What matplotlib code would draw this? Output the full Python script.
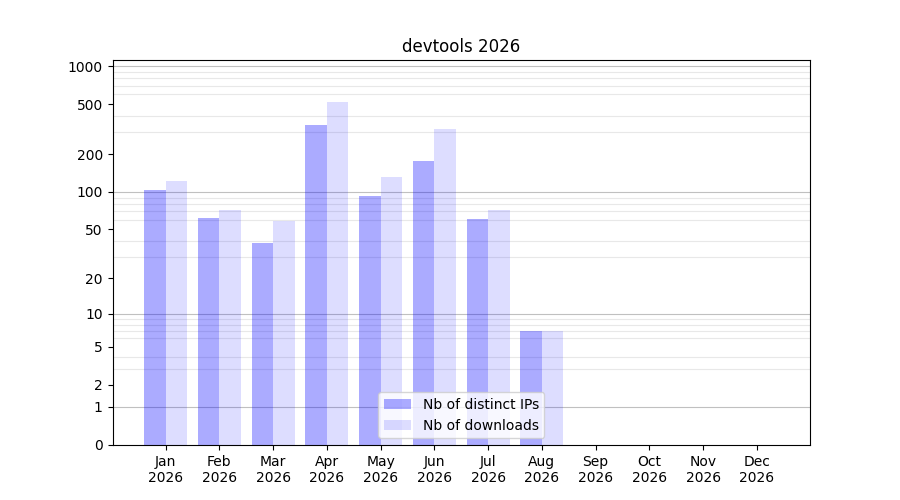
import numpy as np
import matplotlib
matplotlib.use('Agg')
import matplotlib.pyplot as plt
from matplotlib.ticker import FixedLocator, NullFormatter

# monthly stats
months = ['Jan', 'Feb', 'Mar', 'Apr', 'May', 'Jun', 'Jul', 'Aug', 'Sep', 'Oct', 'Nov', 'Dec']
year = 2026
distinct_ips = [104, 62, 39, 344, 93, 178, 61, 7, 0, 0, 0, 0]
downloads = [122, 72, 59, 524, 132, 320, 72, 7, 0, 0, 0, 0]

major_ticks = [0, 1, 2, 5, 10, 20, 50, 100, 200, 500, 1000]
decades = [1, 10, 100, 1000]


def fwd(y):
    return np.log10(1 + np.asarray(y, dtype=float))


def inv(y):
    return 10 ** np.asarray(y, dtype=float) - 1


fig, ax = plt.subplots(figsize=(9, 5), dpi=100)
x = np.arange(len(months))
w = 0.4
ax.bar(x - w / 2, distinct_ips, w, color='blue', alpha=0.33, label='Nb of distinct IPs', zorder=2)
ax.bar(x + w / 2, downloads, w, color='blue', alpha=0.133, label='Nb of downloads', zorder=2)

ax.set_yscale('function', functions=(fwd, inv))
ax.set_ylim(0, 1120)
ax.yaxis.set_major_locator(FixedLocator(major_ticks))
ax.set_yticklabels([str(t) for t in major_ticks])
minor = [m * d for d in [1, 10, 100] for m in range(2, 10)]
ax.yaxis.set_minor_locator(FixedLocator(minor))
ax.yaxis.set_minor_formatter(NullFormatter())
ax.tick_params(axis='y', which='minor', length=0)
ax.set_axisbelow(True)
ax.grid(True, which='minor', axis='y', color='#e8e8e8', linewidth=0.8)
for d in decades:
    ax.axhline(d, color='#c0c0c0', linewidth=0.8, zorder=0.5)

ax.set_xticks(x)
ax.set_xticklabels([f'{m}\n{year}' for m in months])
ax.set_title(f'devtools {year}')
ax.legend(loc='lower center')

fig.savefig('out.png')
